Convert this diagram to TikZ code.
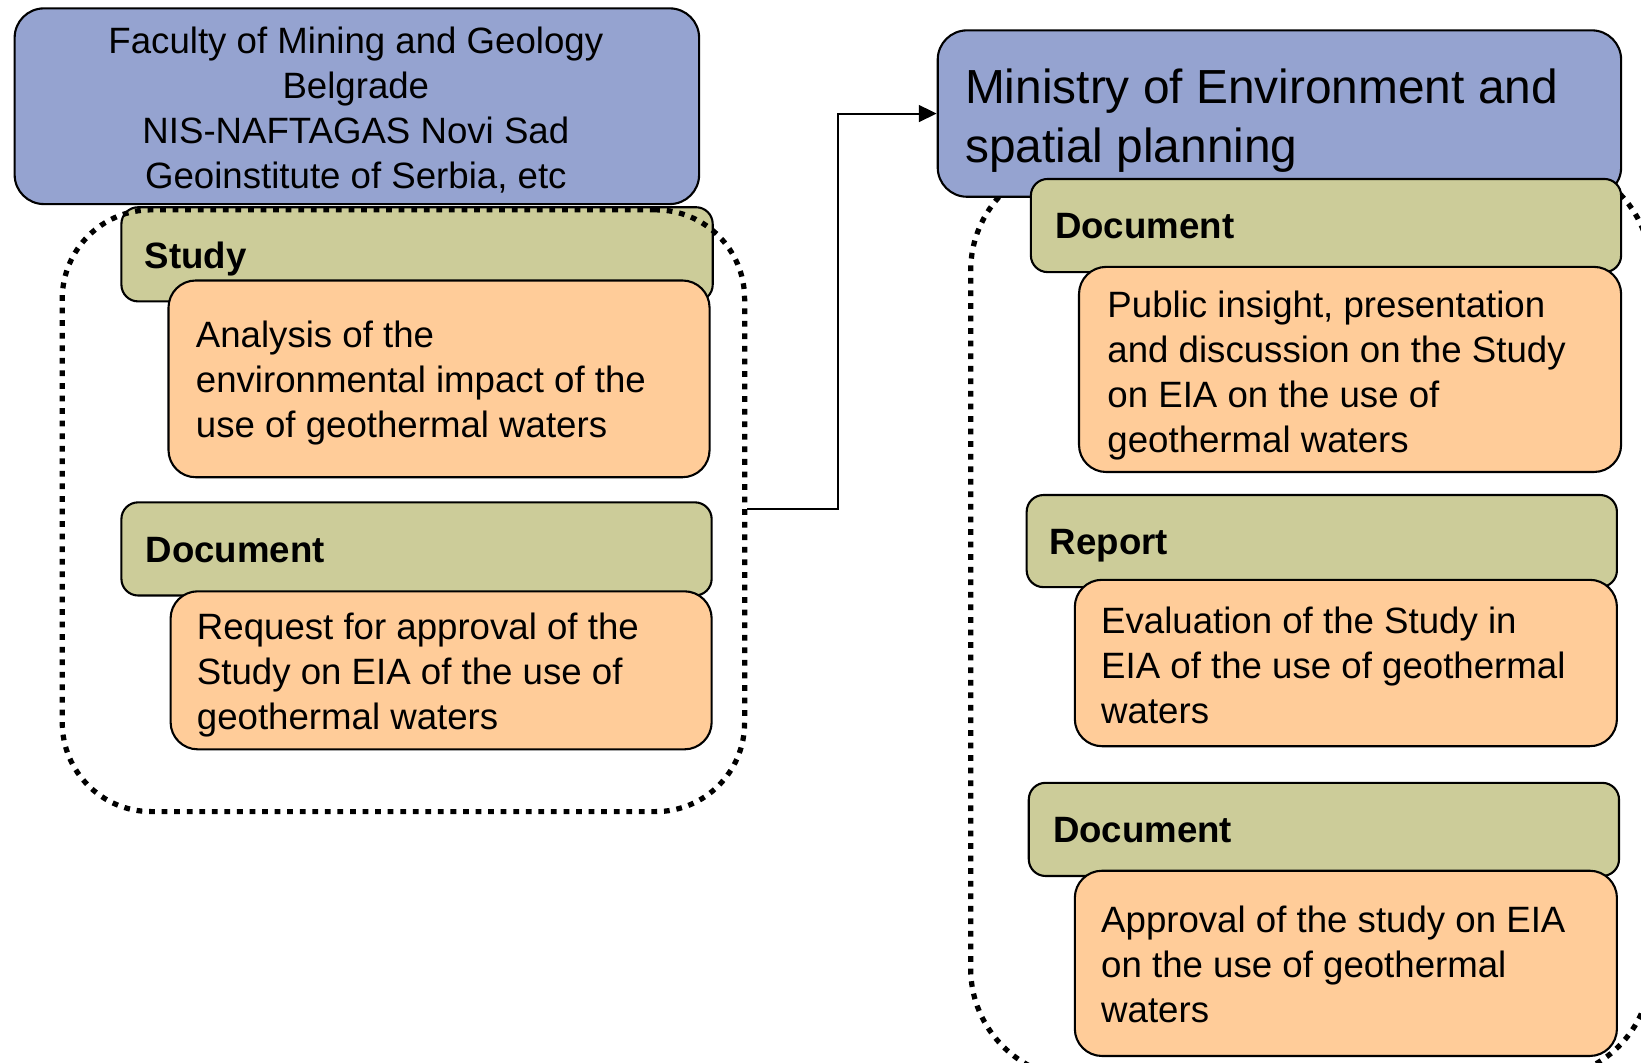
\documentclass[tikz,border=0pt]{standalone}
\usepackage{fontspec}
\setmainfont{Liberation Sans}
\usetikzlibrary{arrows.meta}
\definecolor{bluefill}{RGB}{149,163,208}
\definecolor{greenfill}{RGB}{204,204,153}
\definecolor{orangefill}{RGB}{255,204,153}
\tikzset{
  boxbase/.style={draw=black, line width=2pt, inner sep=0pt, anchor=north west},
  bluebox/.style={boxbase, fill=bluefill, rounded corners=28pt},
  greenbox/.style={boxbase, fill=greenfill, rounded corners=16pt},
  orangebox/.style={boxbase, fill=orangefill, rounded corners=26pt},
  container/.style={draw=black, line width=5pt, dash pattern=on 5.5pt off 6.5pt, inner sep=0pt, anchor=north west},
  txt/.style={anchor=north west, inner sep=0pt, align=left, font=\fontsize{35}{43}\selectfont},
  hd/.style={anchor=north west, inner sep=0pt, align=left, font=\fontsize{35}{43}\selectfont\bfseries},
  ttl/.style={anchor=north west, inner sep=0pt, align=left, font=\fontsize{45.7}{56}\selectfont},
  conn/.style={draw=black, line width=2pt, -{Triangle[length=17pt,width=16pt]}}
}
\begin{document}
\begin{tikzpicture}[x=1pt, y=-1pt]
\useasboundingbox (0,0) rectangle (1568,1014.8);
% ---------------- left column ----------------
\node[greenbox, minimum width=565pt, minimum height=90pt] (study) at (115,197) {};
\node[orangebox, minimum width=517pt, minimum height=188pt] (analysis) at (160,267) {};
\node[greenbox, minimum width=564pt, minimum height=89pt] (ldoc) at (115,479) {};
\node[orangebox, minimum width=517pt, minimum height=151pt] (request) at (162,564) {};
\node[container, rounded corners=85pt, minimum width=652pt, minimum height=575pt] (lcont) at (57,198) {};
\node[bluebox, minimum width=654pt, minimum height=187pt] (faculty) at (13,7) {};

\node[txt, align=center, anchor=north] (facultytxt) at (340,23) {\rule{0pt}{28pt}Faculty of Mining and Geology\\Belgrade\\NIS-NAFTAGAS Novi Sad\\Geoinstitute of Serbia, etc};
\node[hd] (studytxt) at (138,228) {\rule{0pt}{28pt}Study};
\node[txt] (analysistxt) at (187,304) {\rule{0pt}{28pt}Analysis of the\\environmental impact of the\\use of geothermal waters};
\node[hd] (ldoctxt) at (139,509) {\rule{0pt}{28pt}Document};
\node[txt] (requesttxt) at (188,583) {\rule{0pt}{28pt}Request for approval of the\\Study on EIA of the use of\\geothermal waters};

% ---------------- right column ----------------
\node[container, rounded corners=105pt, minimum width=650pt, minimum height=877pt] (rcont) at (925,151) {};
\node[bluebox, minimum width=653pt, minimum height=159pt] (mini) at (895,28) {};
\node[greenbox, minimum width=564pt, minimum height=89pt] (rdoc1) at (984,170) {};
\node[orangebox, minimum width=518pt, minimum height=196pt] (public) at (1030,254) {};
\node[greenbox, minimum width=564pt, minimum height=88pt] (report) at (980,472) {};
\node[orangebox, minimum width=518pt, minimum height=159pt] (evaluation) at (1026,553) {};
\node[greenbox, minimum width=564pt, minimum height=89pt] (rdoc3) at (982,747) {};
\node[orangebox, minimum width=518pt, minimum height=177pt] (approval) at (1026,831) {};

\node[ttl] (minitxt) at (922,63) {\rule{0pt}{36pt}Ministry of Environment and\\spatial planning};
\node[hd] (rdoc1txt) at (1008,200) {\rule{0pt}{28pt}Document};
\node[txt] (publictxt) at (1058,275) {\rule{0pt}{28pt}Public insight, presentation\\and discussion on the Study\\on EIA on the use of\\geothermal waters};
\node[hd] (reporttxt) at (1003,502) {\rule{0pt}{28pt}Report};
\node[txt] (evaluationtxt) at (1052,577) {\rule{0pt}{28pt}Evaluation of the Study in\\EIA of the use of geothermal\\waters};
\node[hd] (rdoc3txt) at (1006,777) {\rule{0pt}{28pt}Document};
\node[txt] (approvaltxt) at (1052,863) {\rule{0pt}{28pt}Approval of the study on EIA\\on the use of geothermal\\waters};

% ---------------- connector ----------------
\coordinate (bend) at (801,0);
\coordinate (cstart) at ([yshift=2pt]lcont.east);
\draw[conn] (cstart) -- (cstart -| bend) -- (bend |- mini.west) -- (mini.west);
\end{tikzpicture}
\end{document}
